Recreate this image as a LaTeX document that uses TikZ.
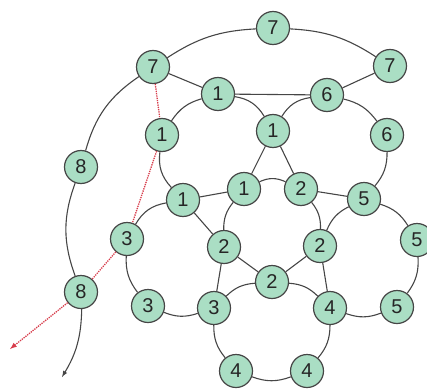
\documentclass[tikz,border=0pt]{standalone}
\usepackage{fontspec}
\setmainfont{Liberation Sans}
\usepackage{tikz}
\definecolor{ringgreen}{RGB}{170,222,196}
\definecolor{edgegray}{RGB}{70,70,70}
\definecolor{walkred}{RGB}{215,60,75}
\tikzset{
  ring/.style={circle, draw=edgegray, fill=ringgreen, line width=1.2pt,
    minimum size=33pt, inner sep=0pt, text=black!85,
    font=\fontsize{20}{20}\selectfont},
  link/.style={draw=edgegray, line width=1.1pt},
  walk/.style={draw=walkred, densely dotted, line width=1.3pt},
}

\begin{document}
\begin{tikzpicture}[x=1pt, y=1pt]
    \useasboundingbox (0,0) rectangle (427,389);

    \node[ring] (s7t) at (273,361) {7};
    \node[ring] (s7l) at (153,322) {7};
    \node[ring] (s7r) at (390,323) {7};
    \node[ring] (s1a) at (218,295) {1};
    \node[ring] (s6a) at (327,294) {6};
    \node[ring] (s1l) at (162,254) {1};
    \node[ring] (s1m) at (273,258) {1};
    \node[ring] (s6r) at (387,254) {6};
    \node[ring] (s8u) at (81,222)  {8};
    \node[ring] (s1b) at (183,189) {1};
    \node[ring] (s1c) at (244,200) {1};
    \node[ring] (s2a) at (301,200) {2};
    \node[ring] (s5a) at (364,190) {5};
    \node[ring] (s3a) at (127,150) {3};
    \node[ring] (s2b) at (224,142) {2};
    \node[ring] (s2c) at (320,143) {2};
    \node[ring] (s5r) at (417,149) {5};
    \node[ring] (s2d) at (272,107) {2};
    \node[ring] (s8l) at (81,97)   {8};
    \node[ring] (s3b) at (148,83)  {3};
    \node[ring] (s3c) at (214,81)  {3};
    \node[ring] (s4a) at (330,81)  {4};
    \node[ring] (s5b) at (397,82)  {5};
    \node[ring] (s4b) at (236,18)  {4};
    \node[ring] (s4c) at (307,18)  {4};
    \coordinate (out) at (62,12);
    \coordinate (detour) at (10,40);

    % outer loop
    \draw[link] (s7l) to[bend left=15] (s7t);
    \draw[link] (s7t) to[bend left=15] (s7r);
    \draw[link] (s7l) to[bend right=20] (s8u);
    \draw[link] (s8u) to[bend right=20] (s8l);
    \draw[link, -latex] (s8l) to[bend left=15] (out);
    \draw[link] (s7l) -- (s1a);
    \draw[link] (s7r) -- (s6a);
    \draw[link] (s1a) -- (s6a);

    % upper rings
    \draw[link] (s1a) to[bend left=25] (s1m);
    \draw[link] (s6a) to[bend right=25] (s1m);
    \draw[link] (s1a) to[bend right=20] (s1l);
    \draw[link] (s1l) to[bend right=25] (s1b);
    \draw[link] (s6a) to[bend left=20] (s6r);
    \draw[link] (s6r) to[bend left=20] (s5a);
    \draw[link] (s1m) -- (s1c);
    \draw[link] (s1m) -- (s2a);

    % middle ring
    \draw[link] (s1c) to[bend left=25] (s2a);
    \draw[link] (s1c) to[bend right=20] (s2b);
    \draw[link] (s2a) to[bend left=20] (s2c);
    \draw[link] (s1b) -- (s1c);
    \draw[link] (s1b) -- (s2b);
    \draw[link] (s2a) -- (s5a);
    \draw[link] (s2b) -- (s2d);
    \draw[link] (s2c) -- (s2d);
    \draw[link] (s2b) -- (s3c);
    \draw[link] (s2c) -- (s4a);

    % left ring
    \draw[link] (s1b) to[bend right=25] (s3a);
    \draw[link] (s3a) to[bend right=20] (s3b);
    \draw[link] (s3b) to[bend right=20] (s3c);

    % right ring
    \draw[link] (s5a) to[bend right=20] (s2c);
    \draw[link] (s5a) to[bend left=20] (s5r);
    \draw[link] (s5r) to[bend left=20] (s5b);
    \draw[link] (s5b) to[bend left=20] (s4a);

    % lower ring
    \draw[link] (s2d) to[bend right=20] (s3c);
    \draw[link] (s2d) to[bend left=20] (s4a);
    \draw[link] (s3c) to[bend right=20] (s4b);
    \draw[link] (s4b) to[bend right=20] (s4c);
    \draw[link] (s4a) to[bend left=20] (s4c);

    % dotted route
    \draw[walk] (s7l) -- (s1l);
    \draw[walk] (s1l) -- (s3a);
    \draw[walk] (s3a) -- (s8l);
    \draw[walk, -latex] (s8l) -- (detour);
\end{tikzpicture}
\end{document}
